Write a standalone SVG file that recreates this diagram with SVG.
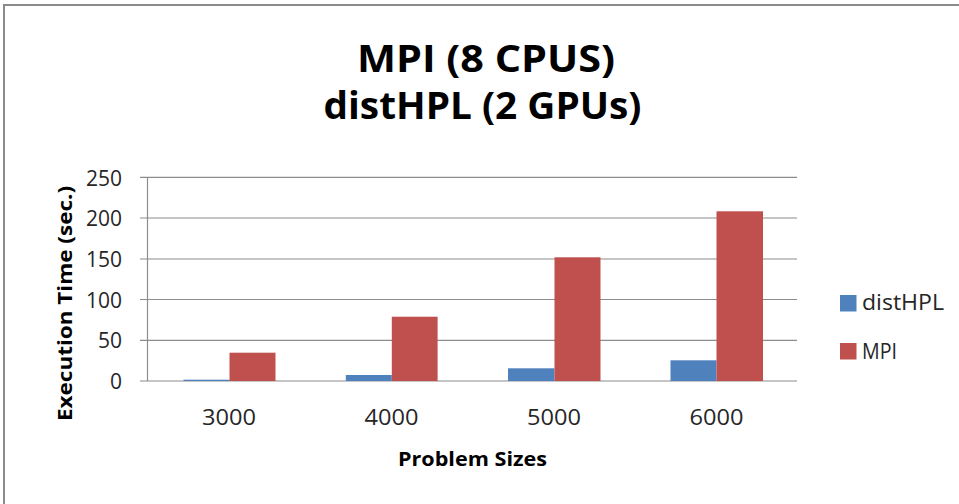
<svg xmlns="http://www.w3.org/2000/svg" width="959" height="504" viewBox="0 0 959 504">
  <style>
    .frame { fill: #ffffff; stroke: #8a8a8a; stroke-width: 2; }
    .grid { stroke: #8c8c8c; stroke-width: 1.2; fill: none; }
    .axis { stroke: #8c8c8c; stroke-width: 1.2; fill: none; }
    .blue { fill: #4f81bd; }
    .red { fill: #c0504d; }
    .title { font-family: "Open Sans", "Liberation Sans", sans-serif; font-weight: bold; font-size: 37px; fill: #000; text-anchor: middle; }
    .tick { font-family: "Open Sans", "Liberation Sans", sans-serif; font-size: 21px; fill: #262626; }
    .axtitle { font-family: "Open Sans", "Liberation Sans", sans-serif; font-weight: bold; font-size: 20px; fill: #000; text-anchor: middle; }
    .legend { font-family: "Open Sans", "Liberation Sans", sans-serif; font-size: 22px; fill: #262626; }
  </style>

  <!-- chart frame -->
  <rect class="frame" x="4" y="5" width="970" height="520"/>

  <!-- title -->
  <g id="title">
    <text class="title" x="486" y="71.5" textLength="258" lengthAdjust="spacingAndGlyphs">MPI (8 CPUS)</text>
    <text class="title" x="482.5" y="118.5" textLength="318" lengthAdjust="spacingAndGlyphs">distHPL (2 GPUs)</text>
  </g>

  <!-- gridlines and axes -->
  <g id="grid">
    <line class="grid" x1="140" y1="177.3" x2="797" y2="177.3"/>
    <line class="grid" x1="140" y1="218" x2="797" y2="218"/>
    <line class="grid" x1="140" y1="259" x2="797" y2="259"/>
    <line class="grid" x1="140" y1="299.5" x2="797" y2="299.5"/>
    <line class="grid" x1="140" y1="340.3" x2="797" y2="340.3"/>
    <line class="axis" x1="140" y1="381" x2="797" y2="381"/>
    <line class="axis" x1="147.5" y1="177.3" x2="147.5" y2="381"/>
  </g>

  <!-- y axis tick labels -->
  <g id="y-ticks" text-anchor="end">
    <text class="tick" x="122" y="185.5">250</text>
    <text class="tick" x="122" y="226">200</text>
    <text class="tick" x="122" y="267">150</text>
    <text class="tick" x="122" y="307.5">100</text>
    <text class="tick" x="122" y="348.3">50</text>
    <text class="tick" x="122" y="389">0</text>
  </g>

  <!-- bars: distHPL (blue) and MPI (red) per problem size -->
  <g id="series-distHPL">
    <rect class="blue" x="183.5" y="379.7" width="46" height="1.3"/>
    <rect class="blue" x="345.8" y="375" width="46" height="6"/>
    <rect class="blue" x="508" y="368.3" width="46.5" height="12.7"/>
    <rect class="blue" x="670.5" y="360.3" width="46" height="20.7"/>
  </g>
  <g id="series-MPI">
    <rect class="red" x="229.5" y="352.7" width="46" height="28.3"/>
    <rect class="red" x="391.8" y="316.7" width="45.8" height="64.3"/>
    <rect class="red" x="554.5" y="257.3" width="46" height="123.7"/>
    <rect class="red" x="716.5" y="211.3" width="46.5" height="169.7"/>
  </g>

  <!-- x axis category labels -->
  <g id="x-ticks" text-anchor="middle">
    <text class="tick" x="229" y="425" textLength="54" lengthAdjust="spacingAndGlyphs">3000</text>
    <text class="tick" x="391.5" y="425" textLength="54" lengthAdjust="spacingAndGlyphs">4000</text>
    <text class="tick" x="554" y="425" textLength="54" lengthAdjust="spacingAndGlyphs">5000</text>
    <text class="tick" x="716.5" y="425" textLength="54" lengthAdjust="spacingAndGlyphs">6000</text>
  </g>

  <!-- axis titles -->
  <g id="axis-titles">
    <text class="axtitle" x="472.5" y="465.7" textLength="149" lengthAdjust="spacingAndGlyphs">Problem Sizes</text>
    <text class="axtitle" transform="translate(71.5 303.5) rotate(-90)" x="0" y="0" textLength="235" lengthAdjust="spacingAndGlyphs">Execution Time (sec.)</text>
  </g>

  <!-- legend -->
  <g id="legend">
    <rect class="blue" x="840" y="295" width="16.5" height="16.5"/>
    <text class="legend" x="862" y="310" textLength="82" lengthAdjust="spacingAndGlyphs">distHPL</text>
    <rect class="red" x="840" y="343" width="16.5" height="16.5"/>
    <text class="legend" x="862" y="359" textLength="35" lengthAdjust="spacingAndGlyphs">MPI</text>
  </g>
</svg>
